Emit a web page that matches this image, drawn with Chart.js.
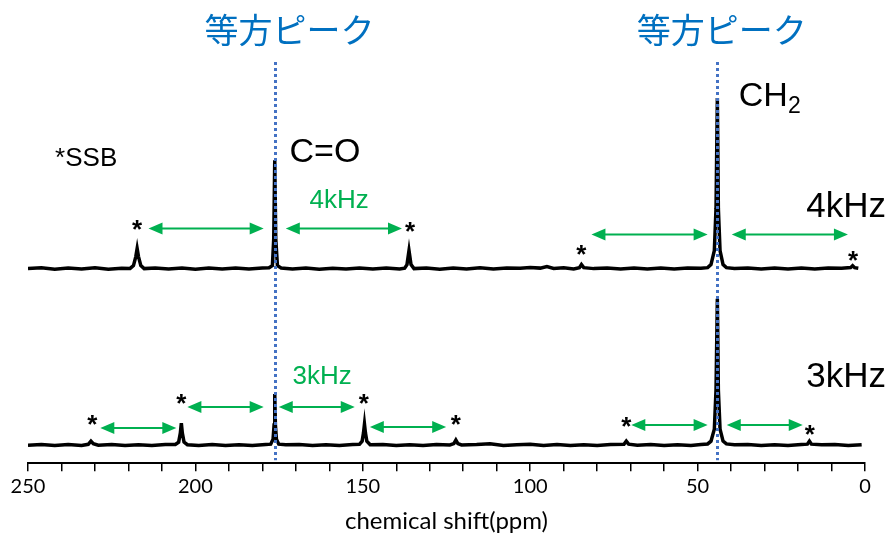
<!DOCTYPE html>
<html>
<head>
<meta charset="utf-8">
<script src="https://cdn.jsdelivr.net/npm/chart.js@4.4.1/dist/chart.umd.min.js"></script>
<style>
  body { margin: 0; background: #fff; }
  #wrap { width: 887px; height: 542px; }
</style>
</head>
<body>
<div id="wrap"><canvas id="nmrChart" width="887" height="542"></canvas></div>
<script>
// spectra: [ppm, intensity above own baseline]
const spec4kHz = [
  [250,0],[246,0.8],[242,-0.5],[238,0.6],[234,-0.3],[230,0.9],[226,-0.6],[222,0.4],[219.5,0.2],
  [218.5,3],[217.8,12],[217.4,20],[217.0,12],[216.3,3],[215.3,0],[212,0.7],[208,-0.4],[204,0.6],
  [200,-0.5],[196,0.5],[192,-0.3],[188,0.7],[184,-0.4],[180,0.5],[178,0.8],[177,3],[176.6,30],
  [176.3,108],[176.0,30],[175.5,3],[174.4,0.6],[171,-0.3],[167,0.6],[163,-0.5],[159,0.4],[155,-0.4],
  [151,0.7],[147,-0.3],[143,0.5],[139,-0.4],[137.5,0.5],[136.8,4],[136.2,18],[135.6,4],[134.7,0],
  [131,0.6],[127,-0.5],[123,0.6],[119,-0.3],[115,0.8],[111,-0.4],[107,0.5],[103,0.3],[100,1.2],
  [97,0.5],[95,2],[93,0.2],[90,0.8],[87,-0.3],[85.3,1],[84.7,4],[84,1],[81,0],[77,0.6],[73,-0.4],
  [69,0.5],[65,-0.3],[61,0.6],[57,-0.4],[53,0.5],[49,0.3],[47,1],[46,4],[45,18],[44.5,60],[44.1,170],
  [43.8,60],[43.3,18],[42.4,4],[41.4,1],[39,0.2],[35,0.6],[31,-0.4],[27,0.5],[23,-0.3],[19,0.6],
  [15,-0.4],[11,0.5],[7,0.3],[4.3,1],[3.7,3],[3.1,1],[2,0.4]
];
const spec3kHz = [
  [250,0],[246,0.6],[242,-0.4],[238,0.7],[234,-0.3],[232,0.8],[231.2,4],[230.5,1.5],[229,0],[225,0.6],
  [221,-0.4],[217,0.5],[213,-0.3],[209,0.6],[206,0.6],[205,3],[204.5,12],[204.2,22],[203.9,12],
  [203.4,3],[202.4,0.4],[199,-0.3],[195,0.6],[191,-0.4],[187,0.5],[183,-0.3],[179,0.6],[177.5,1],
  [176.8,6],[176.5,20],[176.3,51],[176.1,20],[175.8,6],[175.1,1],[173,0.3],[169,0.6],[165,-0.4],
  [161,0.5],[157,-0.3],[153,0.6],[151,0.8],[150.2,4],[149.8,12],[149.5,21],[149.2,12],[148.8,4],
  [147.8,0.5],[144,0.6],[140,-0.3],[136,0.5],[132,-0.4],[128,0.6],[124,0.2],[122.8,1.5],[122.2,5],
  [121.6,1.5],[120.5,0.2],[116,0.6],[112,1.5],[108,-0.3],[104,0.5],[100,1],[96,-0.3],[92,0.6],
  [88,-0.4],[84,0.5],[80,-0.3],[76,0.6],[72,0.8],[71.3,4],[70.6,1],[68,0],[64,0.6],[60,-0.4],
  [56,0.5],[52,-0.3],[49,0.6],[47,1.2],[46,4],[45,16],[44.5,55],[44.1,146],[43.8,55],[43.3,16],
  [42.4,4],[41.4,1.2],[39,0.3],[35,0.6],[31,-0.4],[27,0.5],[23,-0.3],[19,0.6],[17.2,1],[16.6,4],
  [16,1],[13,0.3],[9,0.6],[5,-0.4],[1,0.5]
];
const baseline4kHz = 194;
const baseline3kHz = 18;

const isoPeaks = [176.3, 44.1];
const isoLabelPpm = [171.9, 42.8];
const isoLabel = "等方ピーク";

// sideband markers [ppm, level]
const asterisks = [
  [217.4, 237], [135.9, 235], [84.7, 212], [3.6, 206],
  [230.8, 42], [204.2, 63], [149.7, 63], [122.2, 42], [71.3, 40], [16.5, 32]
];
// double arrows [fromPpm, toPpm, level]
const arrows = [
  [214, 179.6, 234], [173, 138.3, 234], [81.7, 47, 228], [39.8, 5.1, 228],
  [228.4, 205.7, 35], [202.4, 179.6, 56], [175.1, 152.4, 56], [147.9, 125.1, 36],
  [69.8, 47, 38], [41.3, 18.6, 38]
];
// text labels [text, ppm, level, colour, size, align]
const labels = [
  ["C=O", 171.9, 310, "#000", 34, "left"],
  ["4kHz", -6.3, 255, "#000", 35, "right"],
  ["3kHz", -6.3, 86, "#000", 35, "right"],
  ["*SSB", 241.9, 303, "#000", 26, "left"],
  ["4kHz", 165.9, 262, "#00b050", 26, "left"],
  ["3kHz", 171, 86, "#00b050", 26, "left"]
];

const toXY = (spec, base) => spec.map(([x, y]) => ({ x: x, y: y + base }));

const annotate = {
  id: "annotate",
  afterDatasetsDraw(chart) {
    const c = chart.ctx;
    const xs = chart.scales.x;
    const ys = chart.scales.y;
    const top = chart.chartArea.top;
    const bottom = chart.chartArea.bottom;
    c.save();

    // isotropic peak lines and labels
    c.strokeStyle = "#4472c4";
    c.lineWidth = 3;
    c.setLineDash([3, 3]);
    isoPeaks.forEach(p => {
      const px = Math.round(xs.getPixelForValue(p)) + 0.5;
      c.beginPath();
      c.moveTo(px, top + 2);
      c.lineTo(px, bottom - 3);
      c.stroke();
    });
    c.setLineDash([]);
    c.fillStyle = "#0070c0";
    c.font = '34px "Noto Sans CJK JP"';
    c.textAlign = "center";
    c.textBaseline = "middle";
    isoLabelPpm.forEach(p => {
      c.fillText(isoLabel, xs.getPixelForValue(p), ys.getPixelForValue(432));
    });

    // arrows
    c.strokeStyle = "#00b050";
    c.fillStyle = "#00b050";
    c.lineWidth = 2;
    arrows.forEach(([a, b, lv]) => {
      const x1 = xs.getPixelForValue(a);
      const x2 = xs.getPixelForValue(b);
      const y = ys.getPixelForValue(lv);
      const head = 14;
      c.beginPath();
      c.moveTo(x1 + head - 2, y);
      c.lineTo(x2 - head + 2, y);
      c.stroke();
      [[x1, 1], [x2, -1]].forEach(([x, d]) => {
        c.beginPath();
        c.moveTo(x, y);
        c.lineTo(x + d * head, y - 6);
        c.lineTo(x + d * head, y + 6);
        c.closePath();
        c.fill();
      });
    });

    // asterisks
    c.fillStyle = "#000";
    c.font = 'bold 26px "Liberation Sans"';
    c.textAlign = "center";
    c.textBaseline = "middle";
    asterisks.forEach(([p, lv]) => {
      c.fillText("*", xs.getPixelForValue(p), ys.getPixelForValue(lv) + 5);
    });

    // text labels
    labels.forEach(([t, p, lv, col, size, align]) => {
      c.fillStyle = col;
      c.font = size + 'px "Liberation Sans"';
      c.textAlign = align;
      c.fillText(t, xs.getPixelForValue(p), ys.getPixelForValue(lv));
    });

    // CH2 with subscript
    c.fillStyle = "#000";
    c.textAlign = "left";
    c.font = '34px "Liberation Sans"';
    const chX = xs.getPixelForValue(37.7);
    const chY = ys.getPixelForValue(365);
    c.fillText("CH", chX, chY);
    const w = c.measureText("CH").width;
    c.font = '23px "Liberation Sans"';
    c.fillText("2", chX + w, chY + 10);

    c.restore();
  }
};

new Chart(document.getElementById("nmrChart"), {
  type: "line",
  data: {
    datasets: [
      {
        label: "4kHz",
        data: toXY(spec4kHz, baseline4kHz),
        borderColor: "#000",
        borderWidth: 3.5,
        pointRadius: 0,
        tension: 0,
        fill: false
      },
      {
        label: "3kHz",
        data: toXY(spec3kHz, baseline3kHz),
        borderColor: "#000",
        borderWidth: 3.5,
        pointRadius: 0,
        tension: 0,
        fill: false
      }
    ]
  },
  options: {
    responsive: false,
    animation: false,
    layout: { padding: { top: 60, left: 28, right: 22, bottom: 6 } },
    plugins: {
      legend: { display: false },
      tooltip: { enabled: false }
    },
    scales: {
      x: {
        type: "linear",
        reverse: true,
        min: 0,
        max: 250,
        ticks: {
          stepSize: 10,
          autoSkip: false,
          maxRotation: 0,
          color: "#000",
          font: { family: "Lato", size: 20 },
          callback: v => (v % 50 === 0 ? v : "")
        },
        grid: {
          drawOnChartArea: false,
          drawTicks: true,
          tickLength: 8,
          color: "#000",
          lineWidth: 1.5
        },
        border: { display: true, color: "#000", width: 2 },
        title: {
          display: true,
          text: "chemical shift(ppm)",
          color: "#000",
          font: { family: "Lato", size: 24 },
          padding: { top: 6, bottom: 0 }
        }
      },
      y: {
        display: false,
        min: 0,
        max: 402
      }
    }
  },
  plugins: [annotate]
});
</script>
</body>
</html>
